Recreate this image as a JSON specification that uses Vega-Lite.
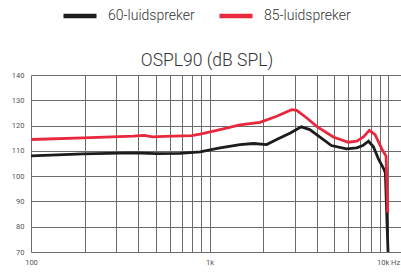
{
  "$schema": "https://vega.github.io/schema/vega-lite/v6.json",
  "width": 370,
  "height": 177,
  "autosize": {"type": "none"},
  "padding": {"left": 31, "top": 75, "right": 0, "bottom": 23},
  "background": "white",
  "config": {
    "view": {"stroke": null},
    "font": "Roboto"
  },
  "title": {
    "text": "OSPL90 (dB SPL)",
    "font": "Roboto",
    "fontSize": 17.5,
    "fontWeight": 300,
    "color": "#333333",
    "anchor": "middle",
    "dx": -9,
    "offset": 0,
    "dy": 72
  },
  "data": {
    "values": [
      {"s": "60-luidspreker", "f": 100, "db": 108.0},
      {"s": "60-luidspreker", "f": 196, "db": 108.8},
      {"s": "60-luidspreker", "f": 374, "db": 109.2},
      {"s": "60-luidspreker", "f": 505, "db": 108.9},
      {"s": "60-luidspreker", "f": 683, "db": 109.0},
      {"s": "60-luidspreker", "f": 886, "db": 109.6},
      {"s": "60-luidspreker", "f": 1145, "db": 111.2},
      {"s": "60-luidspreker", "f": 1482, "db": 112.5},
      {"s": "60-luidspreker", "f": 1764, "db": 112.9},
      {"s": "60-luidspreker", "f": 2090, "db": 112.5},
      {"s": "60-luidspreker", "f": 2378, "db": 114.5},
      {"s": "60-luidspreker", "f": 2837, "db": 117.1},
      {"s": "60-luidspreker", "f": 3265, "db": 119.5},
      {"s": "60-luidspreker", "f": 3643, "db": 118.4},
      {"s": "60-luidspreker", "f": 4142, "db": 115.5},
      {"s": "60-luidspreker", "f": 4815, "db": 112.1},
      {"s": "60-luidspreker", "f": 5850, "db": 110.8},
      {"s": "60-luidspreker", "f": 6680, "db": 111.2},
      {"s": "60-luidspreker", "f": 7220, "db": 112.1},
      {"s": "60-luidspreker", "f": 7770, "db": 113.8},
      {"s": "60-luidspreker", "f": 8280, "db": 111.6},
      {"s": "60-luidspreker", "f": 8860, "db": 106.6},
      {"s": "60-luidspreker", "f": 9460, "db": 102.9},
      {"s": "60-luidspreker", "f": 9660, "db": 101.3},
      {"s": "60-luidspreker", "f": 10000, "db": 70},
      {"s": "85-luidspreker", "f": 100, "db": 114.5},
      {"s": "85-luidspreker", "f": 196, "db": 115.1},
      {"s": "85-luidspreker", "f": 374, "db": 115.8},
      {"s": "85-luidspreker", "f": 430, "db": 116.1},
      {"s": "85-luidspreker", "f": 480, "db": 115.5},
      {"s": "85-luidspreker", "f": 560, "db": 115.7},
      {"s": "85-luidspreker", "f": 794, "db": 116.0},
      {"s": "85-luidspreker", "f": 886, "db": 116.6},
      {"s": "85-luidspreker", "f": 1145, "db": 118.4},
      {"s": "85-luidspreker", "f": 1482, "db": 120.3},
      {"s": "85-luidspreker", "f": 1918, "db": 121.3},
      {"s": "85-luidspreker", "f": 2378, "db": 123.7},
      {"s": "85-luidspreker", "f": 2887, "db": 126.3},
      {"s": "85-luidspreker", "f": 3079, "db": 126.0},
      {"s": "85-luidspreker", "f": 3505, "db": 123.0},
      {"s": "85-luidspreker", "f": 3985, "db": 119.7},
      {"s": "85-luidspreker", "f": 4940, "db": 115.5},
      {"s": "85-luidspreker", "f": 5995, "db": 113.4},
      {"s": "85-luidspreker", "f": 6680, "db": 113.8},
      {"s": "85-luidspreker", "f": 7280, "db": 115.5},
      {"s": "85-luidspreker", "f": 7860, "db": 118.1},
      {"s": "85-luidspreker", "f": 8460, "db": 116.4},
      {"s": "85-luidspreker", "f": 9230, "db": 110.8},
      {"s": "85-luidspreker", "f": 9750, "db": 107.9},
      {"s": "85-luidspreker", "f": 9960, "db": 85.5}
    ]
  },
  "mark": {"type": "line", "strokeWidth": 2.8, "clip": true},
  "encoding": {
    "x": {
      "field": "f",
      "type": "quantitative",
      "scale": {"type": "log", "domain": [100, 11820], "nice": false, "zero": false},
      "axis": {
        "title": null,
        "values": [100, 200, 300, 400, 500, 600, 700, 800, 900, 1000, 2000, 3000, 4000, 5000, 6000, 7000, 8000, 9000, 10000],
        "labelExpr": "datum.value == 100 ? '100' : datum.value == 1000 ? '1k' : datum.value == 10000 ? '10k Hz' : ''",
        "domain": false,
        "ticks": false,
        "grid": true,
        "gridColor": "#6b6b6b",
        "gridWidth": 1,
        "labelFont": "Roboto",
        "labelFontSize": 7.5,
        "labelColor": "#555555",
        "labelPadding": 6,
        "labelFlush": false,
        "labelOverlap": false
      }
    },
    "y": {
      "field": "db",
      "type": "quantitative",
      "scale": {"domain": [70, 140], "nice": false, "zero": false},
      "axis": {
        "title": null,
        "values": [70, 80, 90, 100, 110, 120, 130, 140],
        "domain": false,
        "ticks": false,
        "grid": true,
        "gridColor": "#6b6b6b",
        "gridWidth": 1,
        "labelFont": "Roboto",
        "labelFontSize": 7.5,
        "labelColor": "#555555",
        "labelPadding": 7
      }
    },
    "color": {
      "field": "s",
      "type": "nominal",
      "scale": {"domain": ["60-luidspreker", "85-luidspreker"], "range": ["#1c1c1c", "#e8283c"]},
      "legend": {
        "title": null,
        "orient": "none",
        "direction": "horizontal",
        "legendX": 30,
        "legendY": -78,
        "symbolType": "stroke",
        "symbolSize": 1089,
        "symbolStrokeWidth": 4.5,
        "labelFont": "Roboto",
        "labelFontSize": 14,
        "labelFontWeight": 300,
        "labelColor": "#333333",
        "labelOffset": 9,
        "columnPadding": 15
      }
    }
  }
}
